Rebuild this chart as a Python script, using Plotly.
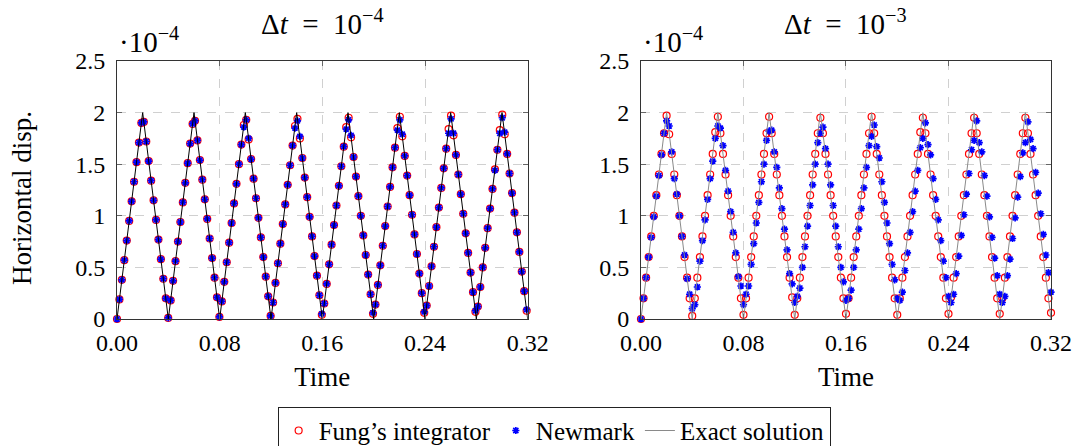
import plotly.graph_objects as go

# ---------------- data (displacement in units of 1e-4) ----------------
# left panel: dt = 1e-4, samples every 0.0019 s
t_left_start = 0.0
t_left_step = 0.0019
fung_left = [0, .19, .38, .57, .76, .95, 1.14, 1.33, 1.52, 1.71, 1.90, 1.91, 1.72, 1.53, 1.34, 1.15, .96, .77, .58, .39, .20, .01,
             .18, .37, .56, .75, .94, 1.13, 1.32, 1.51, 1.70, 1.89, 1.92, 1.73, 1.54, 1.35, 1.16, .97, .78, .59, .40, .21, .02,
             .17, .36, .55, .74, .93, 1.12, 1.31, 1.50, 1.69, 1.88, 1.93, 1.74, 1.55, 1.36, 1.17, .98, .79, .60, .41, .22, .03,
             .16, .35, .54, .73, .92, 1.11, 1.30, 1.49, 1.68, 1.87, 1.94, 1.75, 1.56, 1.37, 1.18, .99, .80, .61, .42, .23, .04,
             .15, .34, .53, .72, .91, 1.10, 1.29, 1.48, 1.67, 1.86, 1.95, 1.76, 1.57, 1.38, 1.19, 1.00, .81, .62, .43, .24, .05,
             .14, .33, .52, .71, .90, 1.09, 1.28, 1.47, 1.66, 1.85, 1.96, 1.77, 1.58, 1.39, 1.20, 1.01, .82, .63, .44, .25, .06,
             .13, .32, .51, .70, .89, 1.08, 1.27, 1.46, 1.65, 1.84, 1.97, 1.78, 1.59, 1.40, 1.21, 1.02, .83, .64, .45, .26, .07,
             .12, .31, .50, .69, .88, 1.07, 1.26, 1.45, 1.64, 1.83, 1.98, 1.79, 1.60, 1.41, 1.22, 1.03, .84, .65, .46, .27, .08]
newmark_left = [0, .19, .38, .57, .76, .95, 1.14, 1.33, 1.52, 1.71, 1.90, 1.91, 1.72, 1.53, 1.34, 1.15, .96, .77, .58, .39, .20, .01,
                .18, .37, .56, .75, .94, 1.13, 1.32, 1.51, 1.70, 1.89, 1.92, 1.73, 1.54, 1.35, 1.16, .97, .78, .59, .40, .21, .02,
                .17, .36, .55, .74, .93, 1.12, 1.31, 1.50, 1.69, 1.86, 1.93, 1.75, 1.55, 1.36, 1.17, .98, .79, .60, .41, .22, .03,
                .16, .35, .54, .73, .92, 1.11, 1.30, 1.49, 1.68, 1.85, 1.92, 1.77, 1.56, 1.37, 1.18, .99, .80, .61, .42, .23, .05,
                .15, .34, .53, .72, .91, 1.10, 1.29, 1.48, 1.67, 1.84, 1.93, 1.78, 1.57, 1.38, 1.19, 1.00, .81, .62, .43, .24, .06,
                .14, .33, .52, .71, .90, 1.09, 1.28, 1.47, 1.66, 1.83, 1.93, 1.79, 1.58, 1.39, 1.20, 1.01, .82, .63, .44, .25, .07,
                .13, .32, .51, .70, .89, 1.08, 1.27, 1.46, 1.65, 1.80, 1.94, 1.80, 1.59, 1.40, 1.21, 1.02, .83, .64, .45, .26, .08,
                .12, .31, .50, .69, .88, 1.07, 1.26, 1.44, 1.64, 1.80, 1.95, 1.81, 1.60, 1.41, 1.22, 1.03, .84, .65, .46, .27, .09]

# right panel: dt = 1e-3, samples every 0.002 s
t_right_start = 0.0
t_right_step = 0.002
fung_right = [0,
              .20, .40, .60, .80, 1.00, 1.20, 1.40, 1.60, 1.80, 1.97, 1.79, 1.60, 1.40, 1.20, 1.00, .80, .60, .40, .20, .03,
              .20, .40, .60, .80, 1.00, 1.20, 1.40, 1.60, 1.81, 1.96, 1.80, 1.60, 1.40, 1.20, 1.00, .80, .60, .40, .20, .04,
              .20, .40, .60, .80, 1.00, 1.20, 1.40, 1.60, 1.80, 1.96, 1.80, 1.60, 1.40, 1.20, 1.00, .80, .60, .40, .21, .04,
              .20, .40, .60, .80, 1.00, 1.20, 1.40, 1.60, 1.80, 1.95, 1.80, 1.60, 1.40, 1.20, 1.00, .80, .60, .40, .20, .05,
              .20, .40, .60, .80, 1.00, 1.20, 1.40, 1.60, 1.80, 1.96, 1.80, 1.60, 1.40, 1.20, 1.00, .80, .60, .40, .20, .04,
              .20, .40, .60, .80, 1.00, 1.20, 1.40, 1.60, 1.81, 1.95, 1.80, 1.60, 1.40, 1.20, 1.00, .80, .60, .40, .20, .05,
              .21, .40, .60, .80, 1.00, 1.20, 1.40, 1.60, 1.80, 1.95, 1.80, 1.60, 1.40, 1.20, 1.00, .80, .60, .40, .20, .05,
              .20, .40, .60, .80, 1.00, 1.20, 1.40, 1.60, 1.80, 1.95, 1.80, 1.60, 1.40, 1.20, 1.00, .80, .60, .40, .20, .06]
newmark_right = [0, .20, .40, .60, .79, .99, 1.19, 1.39, 1.59, 1.80, 1.92, 1.87, 1.62, 1.36, 1.21, 1.00, .80, .62, .39, .24,
                 .10, .14, .31, .56, .76, .96, 1.16, 1.36, 1.53, 1.75, 1.87, 1.85, 1.68, 1.44, 1.24, 1.04, .84, .64, .41, .32,
                 .14, .24, .32, .53, .73, .93, 1.13, 1.33, 1.50, 1.73, 1.82, 1.83, 1.62, 1.47, 1.27, 1.07, .87, .67, .44, .34,
                 .16, .22, .30, .50, .70, .90, 1.10, 1.30, 1.50, 1.71, 1.80, 1.86, 1.65, 1.50, 1.30, 1.10, .90, .70, .50, .36,
                 .18, .20, .28, .50, .67, .87, 1.07, 1.27, 1.47, 1.68, 1.77, 1.88, 1.67, 1.56, 1.33, 1.13, .93, .73, .53, .38,
                 .20, .18, .26, .47, .64, .84, 1.04, 1.24, 1.44, 1.66, 1.75, 1.90, 1.69, 1.59, 1.36, 1.16, .96, .76, .56, .40,
                 .22, .16, .24, .44, .61, .81, 1.01, 1.21, 1.41, 1.64, 1.73, 1.92, 1.71, 1.62, 1.39, 1.19, .99, .79, .59, .42,
                 .24, .16, .22, .42, .58, .78, .98, 1.18, 1.38, 1.61, 1.71, 1.91, 1.74, 1.65, 1.42, 1.22, 1.02, .82, .62, .45,
                 .26]

# exact solution (triangle wave vertices)
t_exact = [0.00, 0.02, 0.04, 0.06, 0.08, 0.10, 0.12, 0.14, 0.16, 0.18, 0.20, 0.22, 0.24, 0.26, 0.28, 0.30, 0.32]
u_exact = [0, 2, 0, 2, 0, 2, 0, 2, 0, 2, 0, 2, 0, 2, 0, 2, 0]

x_tickvals = [0, 0.08, 0.16, 0.24, 0.32]
x_ticktext = ["0.00", "0.08", "0.16", "0.24", "0.32"]
y_tickvals = [0, 0.5, 1, 1.5, 2, 2.5]
y_ticktext = ["0", "0.5", "1", "1.5", "2", "2.5"]

RED = "#ff0000"
BLUE = "#0000ff"
FONT = "Liberation Serif"

fig = go.Figure()

fung_marker = dict(symbol="circle-open", size=7, color=RED, line=dict(color=RED, width=1.2))
newmark_marker = dict(symbol="asterisk-open", size=6, color=BLUE, line=dict(color=BLUE, width=1.7))

# left panel
fig.add_trace(go.Scatter(y=fung_left, x0=t_left_start, dx=t_left_step, mode="markers", marker=fung_marker,
                         name="Fung’s integrator", legendrank=1, cliponaxis=False, xaxis="x", yaxis="y"))
fig.add_trace(go.Scatter(y=newmark_left, x0=t_left_start, dx=t_left_step, mode="markers", marker=newmark_marker,
                         name="Newmark", legendrank=2, cliponaxis=False, xaxis="x", yaxis="y"))
fig.add_trace(go.Scatter(x=t_exact, y=u_exact, mode="lines", line=dict(color="black", width=1),
                         showlegend=False, xaxis="x", yaxis="y"))

# right panel
fig.add_trace(go.Scatter(y=fung_right, x0=t_right_start, dx=t_right_step, mode="markers", marker=fung_marker,
                         showlegend=False, cliponaxis=False, xaxis="x2", yaxis="y2"))
fig.add_trace(go.Scatter(y=newmark_right, x0=t_right_start, dx=t_right_step, mode="markers", marker=newmark_marker,
                         showlegend=False, cliponaxis=False, xaxis="x2", yaxis="y2"))
fig.add_trace(go.Scatter(x=t_exact, y=u_exact, mode="lines", line=dict(color="#8a8a8a", width=1),
                         name="Exact solution", legendrank=3, xaxis="x2", yaxis="y2"))

xaxis_common = dict(range=[0, 0.32], tickvals=x_tickvals, ticktext=x_ticktext, automargin=False,
                    showgrid=True, gridcolor="#d0d0d0", griddash="dash", gridwidth=1,
                    showline=True, linecolor="#333333", linewidth=1, mirror="ticks",
                    ticks="inside", ticklen=5, tickcolor="#666666", zeroline=False,
                    tickfont=dict(family=FONT, size=24, color="black"), ticklabelstandoff=2,
                    title=dict(text="Time", font=dict(family=FONT, size=27, color="black"), standoff=12))
yaxis_common = dict(range=[0, 2.5], tickvals=y_tickvals, ticktext=y_ticktext, automargin=False,
                    showgrid=True, gridcolor="#d0d0d0", griddash="dash", gridwidth=1,
                    showline=True, linecolor="#333333", linewidth=1, mirror="ticks",
                    ticks="inside", ticklen=5, tickcolor="#666666", zeroline=False,
                    tickfont=dict(family=FONT, size=24, color="black"), ticklabelstandoff=6)

TITLE_FONT = dict(family=FONT, size=29, color="black")
SCALE_FONT = dict(family=FONT, size=29, color="black")

fig.update_layout(
    width=1076, height=446,
    margin=dict(l=117, r=25, t=61, b=127, autoexpand=False),
    plot_bgcolor="white", paper_bgcolor="white",
    font=dict(family=FONT, size=24, color="black"),
    xaxis=dict(domain=[0, 0.4397], anchor="y", **xaxis_common),
    yaxis=dict(domain=[0, 1], anchor="x", **yaxis_common),
    xaxis2=dict(domain=[0.561, 1], anchor="y2", **xaxis_common),
    yaxis2=dict(domain=[0, 1], anchor="x2", **yaxis_common),
    showlegend=True,
    legend=dict(orientation="h", xref="container", yref="container", x=0.515, xanchor="center",
                y=0.088, yanchor="top",
                bordercolor="#222222", borderwidth=1, bgcolor="white",
                font=dict(family=FONT, size=25, color="black"), itemwidth=30, tracegroupgap=0),
    annotations=[
        dict(text="Δ<i>t</i>&nbsp;&nbsp;=&nbsp;&nbsp;10<sup>−4</sup>", xref="paper", yref="paper", x=0.2198, y=1.151,
             xanchor="center", yanchor="middle", showarrow=False, font=TITLE_FONT),
        dict(text="Δ<i>t</i>&nbsp;&nbsp;=&nbsp;&nbsp;10<sup>−3</sup>", xref="paper", yref="paper", x=0.7805, y=1.151,
             xanchor="center", yanchor="middle", showarrow=False, font=TITLE_FONT),
        dict(text="·10<sup>−4</sup>", xref="paper", yref="paper", x=0.0, y=1.081,
             xanchor="left", yanchor="middle", showarrow=False, font=SCALE_FONT),
        dict(text="·10<sup>−4</sup>", xref="paper", yref="paper", x=0.561, y=1.081,
             xanchor="left", yanchor="middle", showarrow=False, font=SCALE_FONT),
        dict(text="Horizontal disp.", xref="paper", yref="paper", x=-0.1017, y=0.469,
             xanchor="center", yanchor="middle", textangle=-90, showarrow=False,
             font=dict(family=FONT, size=27, color="black")),
    ],
)

# remove the default page margin so the 1076x446 figure fills the window exactly
fig.write_html("out.html",
               config={"displayModeBar": False},
               post_script="document.body.style.margin='0';document.body.style.overflow='hidden';")
